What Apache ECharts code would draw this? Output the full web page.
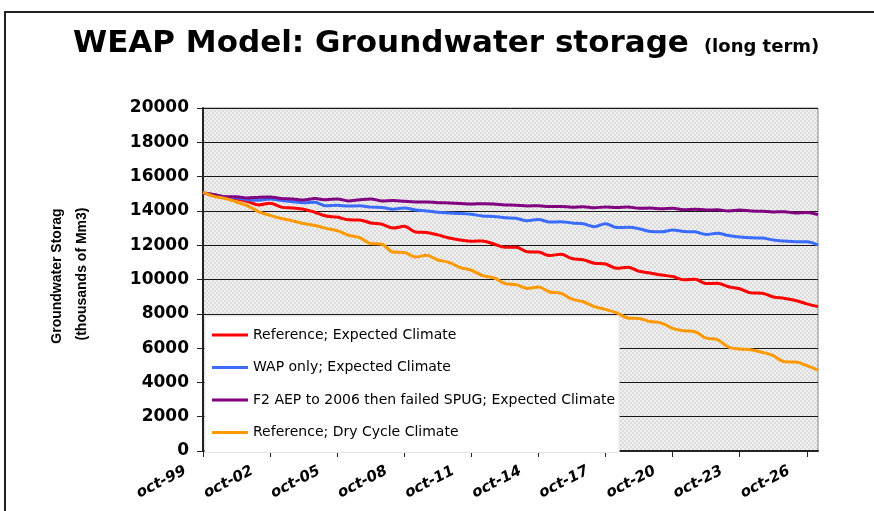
<!DOCTYPE html>
<html>
<head>
<meta charset="utf-8">
<script src="https://cdn.jsdelivr.net/npm/echarts@6/dist/echarts.min.js"></script>
<style>
html,body{margin:0;padding:0;background:#fff;}
#chart{width:874px;height:511px;}
</style>
</head>
<body>
<div id="chart"></div>
<script>
// half-year steps, oct-99 .. apr-27
var months = ['oct-99','apr-00','oct-00','apr-01','oct-01','apr-02','oct-02','apr-03','oct-03','apr-04',
  'oct-04','apr-05','oct-05','apr-06','oct-06','apr-07','oct-07','apr-08','oct-08','apr-09',
  'oct-09','apr-10','oct-10','apr-11','oct-11','apr-12','oct-12','apr-13','oct-13','apr-14',
  'oct-14','apr-15','oct-15','apr-16','oct-16','apr-17','oct-17','apr-18','oct-18','apr-19',
  'oct-19','apr-20','oct-20','apr-21','oct-21','apr-22','oct-22','apr-23','oct-23','apr-24',
  'oct-24','apr-25','oct-25','apr-26','oct-26','apr-27'];

var refExpected = [15050,14950,14800,14700,14550,14350,14450,14220,14170,14100,
  13920,13700,13640,13480,13470,13300,13220,13000,13100,12770,
  12740,12600,12420,12300,12230,12250,12070,11880,11880,11620,
  11600,11400,11470,11220,11150,10950,10900,10650,10720,10480,
  10380,10260,10170,9980,10020,9760,9780,9580,9460,9220,
  9200,8980,8900,8780,8580,8420];

var wapOnly = [15050,14950,14800,14760,14650,14620,14700,14600,14530,14480,
  14500,14300,14330,14280,14300,14220,14200,14100,14170,14050,
  14000,13920,13880,13850,13800,13700,13680,13600,13570,13430,
  13500,13350,13370,13300,13250,13080,13250,13030,13040,12960,
  12800,12780,12880,12800,12780,12620,12700,12560,12480,12430,
  12420,12300,12240,12200,12200,12000];

var f2Aep = [15050,14950,14820,14830,14750,14800,14810,14720,14700,14640,
  14720,14650,14700,14580,14650,14700,14580,14600,14560,14520,
  14520,14480,14460,14430,14400,14420,14400,14350,14330,14290,
  14300,14250,14260,14220,14240,14180,14230,14200,14230,14150,
  14170,14120,14150,14070,14100,14050,14060,14000,14050,13990,
  13980,13940,13950,13880,13900,13780];

var refDry = [15100,14850,14720,14520,14300,13950,13740,13560,13420,13260,
  13150,12980,12850,12580,12440,12100,12060,11600,11580,11310,
  11420,11140,11000,10700,10540,10230,10100,9770,9700,9480,
  9560,9270,9200,8850,8700,8420,8260,8050,7760,7730,
  7550,7460,7150,7010,6950,6580,6500,6060,5950,5900,
  5760,5560,5200,5190,4980,4720];

var seriesNames = ['Reference; Expected Climate','WAP only; Expected Climate',
  'F2 AEP to 2006 then failed SPUG; Expected Climate','Reference; Dry Cycle Climate'];
var seriesColors = ['#ff0000','#3b6cff','#800080','#ff9900'];
var seriesData = [refExpected, wapOnly, f2Aep, refDry];

// dotted plot background
var pc = document.createElement('canvas');
pc.width = 4; pc.height = 4;
var pctx = pc.getContext('2d');
pctx.fillStyle = '#f0f0f0';
pctx.fillRect(0, 0, 4, 4);
pctx.fillStyle = '#dcdcdc';
pctx.fillRect(0, 0, 2, 2);
pctx.fillRect(2, 2, 2, 2);

var myChart = echarts.init(document.getElementById('chart'), null, {renderer: 'canvas'});

var option = {
  animation: false,
  backgroundColor: '#fff',
  title: {
    left: 68,
    top: 23,
    text: '{a|WEAP Model: Groundwater storage} {b|(long term)}',
    textStyle: {
      rich: {
        a: {fontFamily: 'DejaVu Sans', fontWeight: 'bold', fontSize: 31, color: '#000'},
        b: {fontFamily: 'DejaVu Sans', fontWeight: 'bold', fontSize: 18, color: '#000', padding: [8, 0, 0, 10]}
      }
    }
  },
  graphic: [
    {
      type: 'rect',
      shape: {x: 5, y: 12, width: 900, height: 600},
      style: {fill: 'none', stroke: '#222', lineWidth: 2},
      silent: true
    },
    {
      type: 'text',
      x: 57, y: 276,
      rotation: Math.PI / 2,
      style: {text: 'Groundwater Storag', fontFamily: 'Liberation Sans Narrow, Liberation Sans', fontWeight: 'bold',
        fontSize: 14, fill: '#000', align: 'center', verticalAlign: 'middle'}
    },
    {
      type: 'text',
      x: 82, y: 274,
      rotation: Math.PI / 2,
      style: {text: '(thousands of Mm3)', fontFamily: 'Liberation Sans Narrow, Liberation Sans', fontWeight: 'bold',
        fontSize: 14, fill: '#000', align: 'center', verticalAlign: 'middle'}
    }
  ],
  legend: {
    orient: 'vertical',
    left: 205,
    top: 316,
    icon: 'rect',
    itemWidth: 36,
    itemHeight: 3,
    itemGap: 18.5,
    padding: [12, 4, 13, 7],
    backgroundColor: '#fff',
    borderColor: '#e6e6e6',
    borderWidth: 1,
    textStyle: {fontFamily: 'DejaVu Sans', fontSize: 14, color: '#000'},
    data: seriesNames
  },
  grid: {
    left: 203,
    right: 56,
    top: 108,
    bottom: 60,
    show: true,
    backgroundColor: {image: pc, repeat: 'repeat'},
    borderColor: '#888',
    borderWidth: 1
  },
  xAxis: {
    type: 'category',
    data: months,
    boundaryGap: false,
    axisLine: {lineStyle: {color: '#222', width: 2}},
    axisTick: {interval: 5, length: 6, lineStyle: {color: '#222', width: 1}},
    axisLabel: {
      interval: 5,
      rotate: 27,
      margin: 10,
      padding: [0, 20, 0, 0],
      color: '#000',
      fontFamily: 'DejaVu Sans',
      fontWeight: 'bold',
      fontStyle: 'italic',
      fontSize: 15
    },
    splitLine: {show: false}
  },
  yAxis: {
    type: 'value',
    min: 0,
    max: 20000,
    interval: 2000,
    axisLine: {show: true, lineStyle: {color: '#222', width: 2}},
    axisTick: {show: true, length: 6, lineStyle: {color: '#222'}},
    axisLabel: {
      margin: 14,
      color: '#000',
      fontFamily: 'DejaVu Sans',
      fontWeight: 'bold',
      fontSize: 17,
      formatter: function (v) { return String(v); }
    },
    splitLine: {lineStyle: {color: '#1a1a1a', width: 1}}
  },
  series: seriesNames.map(function (name, i) {
    return {
      name: name,
      type: 'line',
      data: seriesData[i],
      smooth: 0.35,
      showSymbol: false,
      symbol: 'none',
      color: seriesColors[i],
      lineStyle: {color: seriesColors[i], width: 3}
    };
  })
};

myChart.setOption(option);
</script>
</body>
</html>
